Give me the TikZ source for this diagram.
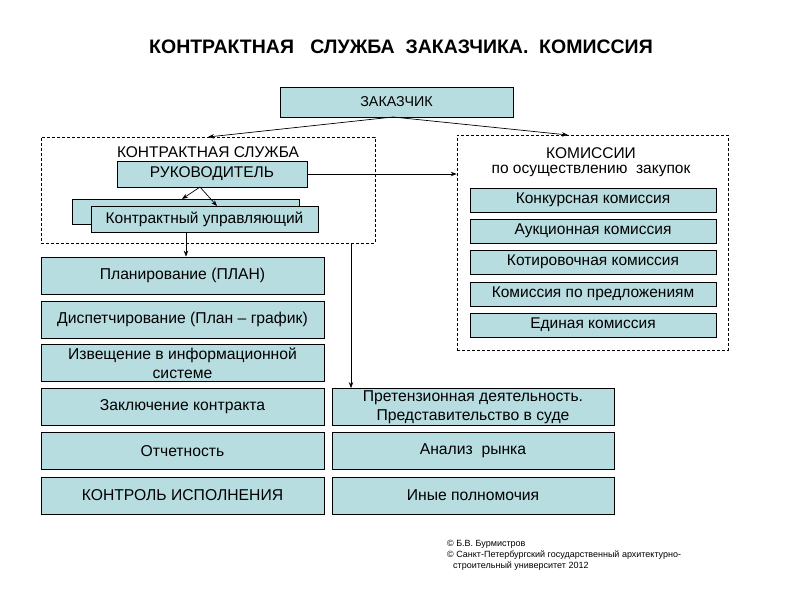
\documentclass[tikz,border=0pt]{standalone}
\usepackage{fontspec}
\setmainfont{Liberation Sans}
\usetikzlibrary{arrows.meta}
\definecolor{boxfill}{RGB}{184,221,225}
\tikzset{
  bx/.style={draw=black, line width=0.8pt, fill=boxfill, inner sep=0pt, align=center, font=\fontsize{15.5}{18.5}\selectfont},
  bigbx/.style={bx, minimum width=283pt, minimum height=37pt, font=\fontsize{15.7}{18.8}\selectfont},
  dbox/.style={draw=black, line width=0.7pt, dash pattern=on 3pt off 2pt, inner sep=0pt},
  lbl/.style={inner sep=0pt, align=center, font=\fontsize{15.5}{18.5}\selectfont},
  arr/.style={draw=black, line width=0.7pt, -{Stealth[length=6pt,width=4.5pt]}},
}
\begin{document}
\begin{tikzpicture}[x=1pt,y=-1pt]
\useasboundingbox (0,0) rectangle (800,600);
\fill[white] (0,0) rectangle (800,600);
% title
\node[inner sep=0pt, font=\bfseries\fontsize{19.5}{23}\selectfont] (title) at (401,47) {КОНТРАКТНАЯ\ \ \ СЛУЖБА\ \ ЗАКАЗЧИКА.\ \ КОМИССИЯ};
% customer
\node[bx, minimum width=233pt, minimum height=30pt, font=\fontsize{14.3}{17}\selectfont] (zak) at (396.5,102) {ЗАКАЗЧИК};
% contract service dashed box
\node[dbox, minimum width=334pt, minimum height=106pt] (ks) at (208,190) {};
\node[lbl] (kslbl) at (208,152) {КОНТРАКТНАЯ СЛУЖБА};
\node[bx, minimum width=190pt, minimum height=26pt] (ruk) at (212,174) {РУКОВОДИТЕЛЬ};
\node[bx, minimum width=227pt, minimum height=25pt] (back) at (185.5,211.5) {};
\node[bx, minimum width=227pt, minimum height=26pt] (ku) at (204.5,219) {Контрактный управляющий};
% commissions dashed box
\node[dbox, minimum width=271pt, minimum height=215pt] (kom) at (592.5,242.5) {};
\node[lbl] (komlbl1) at (591,153) {КОМИССИИ};
\node[lbl] (komlbl2) at (591,170.5) {по осуществлению\ \ закупок};
\node[bx, minimum width=246pt, minimum height=24pt] (c1) at (593,200) {Конкурсная комиссия};
\node[bx, minimum width=246pt, minimum height=24pt] (c2) at (593,231) {Аукционная комиссия};
\node[bx, minimum width=246pt, minimum height=24pt] (c3) at (593,262) {Котировочная комиссия};
\node[bx, minimum width=246pt, minimum height=24pt] (c4) at (593,294) {Комиссия по предложениям};
\node[bx, minimum width=246pt, minimum height=24pt] (c5) at (593,325) {Единая комиссия};
% left column
\node[bigbx] (l1) at (182.5,275.5) {Планирование (ПЛАН)};
\node[bigbx] (l2) at (182.5,319.5) {Диспетчирование (План – график)};
\node[bigbx] (l3) at (182.5,363) {Извещение в информационной\\системе};
\node[bigbx] (l4) at (182.5,407) {Заключение контракта};
\node[bigbx] (l5) at (182.5,451) {Отчетность};
\node[bigbx] (l6) at (182.5,495.5) {КОНТРОЛЬ ИСПОЛНЕНИЯ};
% right column
\node[bigbx, minimum width=282pt] (r1) at (473,407) {Претензионная деятельность.\\Представительство в суде};
\node[bigbx, minimum width=282pt] (r2) at (473,451) {Анализ\ \ рынка};
\node[bigbx, minimum width=282pt] (r3) at (473,495.5) {Иные полномочия};
% footer
\node[inner sep=0pt, anchor=north west, align=left, font=\fontsize{9}{11}\selectfont] (foot) at (447,540)
 {© Б.В. Бурмистров\\© Санкт-Петербургский государственный архитектурно-\\\hspace*{6pt}строительный университет 2012};
% connectors
\coordinate (zakout) at (393,117);
\coordinate (ksin) at (208,137);
\coordinate (komin) at (568,135);
\draw[arr] (zakout) -- (ksin);
\draw[arr] (zakout) -- (komin);
\coordinate (rukout) at (200,187);
\coordinate (backin) at (182,199);
\coordinate (kuin) at (217,206);
\draw[arr] (rukout) -- (backin);
\draw[arr] (rukout) -- (kuin);
\draw[arr] (ku.south -| 186,0) -- (l1.north -| 186,0);
\draw[arr] (ruk.east) -- (kom.west |- ruk.east);
\draw[arr] (ks.south -| 351,0) -- (r1.north -| 351,0);
\end{tikzpicture}
\end{document}
